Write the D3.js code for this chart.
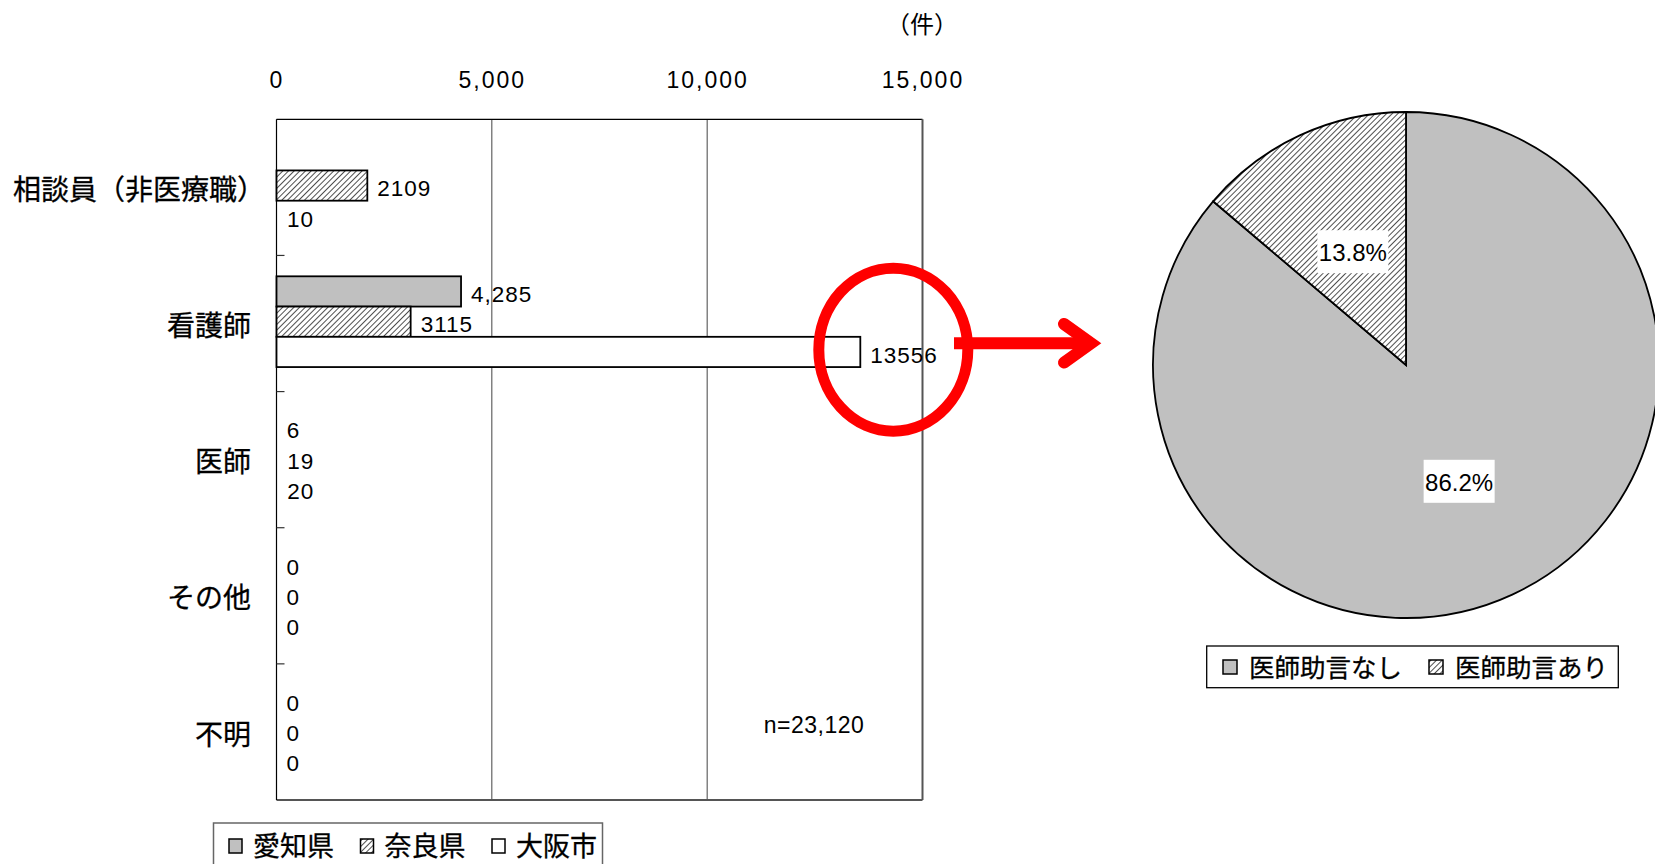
<!DOCTYPE html>
<html>
<head>
  <meta charset="utf-8">
  <title></title>
  <script src="https://d3js.org/d3.v7.min.js"></script>
  <style>
    body { margin: 0; background: #fff; }
    svg { display: block; }
  </style>
</head>
<body>
<script>
// bar chart data (件)
var categories = ["相談員（非医療職）", "看護師", "医師", "その他", "不明"];
var seriesNames = ["愛知県", "奈良県", "大阪市"];
var aichi = [null, 4285, 6, 0, 0];
var nara  = [2109, 3115, 19, 0, 0];
var osaka = [10, 13556, 20, 0, 0];
var xTicks = [0, 5000, 10000, 15000];
var unitLabel = "（件）";
var sampleNote = "n=23,120";

// pie data (%)
var pieLabels = ["医師助言なし", "医師助言あり"];
var pieValues = [86.2, 13.8];

var W = 1655, H = 864;
var jp = "'Noto Sans CJK JP', 'Noto Sans', sans-serif";
var num = "'Liberation Sans', Arial, sans-serif";

var svg = d3.select("body").append("svg")
    .attr("width", W)
    .attr("height", H);

var defs = svg.append("defs");
defs.append("pattern")
    .attr("id", "hatch")
    .attr("patternUnits", "userSpaceOnUse")
    .attr("width", 4).attr("height", 4)
    .attr("patternTransform", "rotate(45)")
  .call(function(p) {
    p.append("rect").attr("width", 4).attr("height", 4).attr("fill", "#fff");
    p.append("line").attr("x1", 0).attr("y1", 0).attr("x2", 0).attr("y2", 4)
      .attr("stroke", "#222").attr("stroke-width", 1.6);
  });

var fills = {"愛知県": "#c0c0c0", "奈良県": "url(#hatch)", "大阪市": "#ffffff"};
var seriesData = {"愛知県": aichi, "奈良県": nara, "大阪市": osaka};
var fmt = {"愛知県": d3.format(","), "奈良県": d3.format("d"), "大阪市": d3.format("d")};

// ---- bar chart ----
var pLeft = 276.5, pTop = 119.3, pRight = 922.5, pBottom = 800;

var x = d3.scaleLinear().domain([0, 15000]).range([pLeft, pRight]);
var y0 = d3.scaleBand().domain(categories).range([pTop, pBottom]);
var y1 = d3.scaleBand().domain(seriesNames).range([0, y0.bandwidth()])
    .paddingInner(0).paddingOuter(0.75).align(0.46);

// grid lines
svg.append("g").selectAll("line")
    .data(xTicks.slice(1, -1))
    .enter().append("line")
    .attr("x1", function(d) { return x(d); })
    .attr("x2", function(d) { return x(d); })
    .attr("y1", pTop).attr("y2", pBottom)
    .attr("stroke", "#444").attr("stroke-width", 1);

// frame
svg.append("line").attr("x1", pLeft).attr("x2", pRight).attr("y1", pTop).attr("y2", pTop)
    .attr("stroke", "#000").attr("stroke-width", 1.2);
svg.append("line").attr("x1", pRight).attr("x2", pRight).attr("y1", pTop).attr("y2", pBottom)
    .attr("stroke", "#555").attr("stroke-width", 2);
svg.append("line").attr("x1", pLeft).attr("x2", pRight).attr("y1", pBottom).attr("y2", pBottom)
    .attr("stroke", "#555").attr("stroke-width", 2.2);
svg.append("line").attr("x1", pLeft).attr("x2", pLeft).attr("y1", pTop).attr("y2", pBottom)
    .attr("stroke", "#000").attr("stroke-width", 1.2);

// category tick marks
svg.append("g").selectAll("line")
    .data(categories.slice(1))
    .enter().append("line")
    .attr("x1", pLeft).attr("x2", pLeft + 8)
    .attr("y1", function(d) { return y0(d); })
    .attr("y2", function(d) { return y0(d); })
    .attr("stroke", "#333").attr("stroke-width", 1.2);

// x axis labels on top
var xAxis = svg.append("g")
    .attr("transform", "translate(0,88)")
    .call(d3.axisTop(x).tickValues(xTicks).tickFormat(d3.format(",")).tickSize(0).tickPadding(0));
xAxis.select(".domain").remove();
xAxis.selectAll("text")
    .attr("font-family", num).attr("font-size", 23)
    .attr("letter-spacing", 2).attr("fill", "#000");

// category labels (a trailing full-width bracket has empty right half)
svg.append("g").selectAll("text")
    .data(categories)
    .enter().append("text")
    .attr("x", 251)
    .attr("dx", function(d) { return d.slice(-1) === "）" ? "0.5em" : 0; })
    .attr("y", function(d) { return y0(d) + y0.bandwidth() / 2; })
    .attr("dy", "0.45em")
    .attr("text-anchor", "end")
    .attr("font-family", jp).attr("font-size", 28)
    .attr("stroke", "#000").attr("stroke-width", 0.3)
    .text(function(d) { return d; });

// bars and value labels
var groups = svg.append("g").selectAll("g")
    .data(categories)
    .enter().append("g")
    .attr("transform", function(d) { return "translate(0," + y0(d) + ")"; });

groups.each(function(c, i) {
  var g = d3.select(this);
  var rows = seriesNames.map(function(s) { return {s: s, v: seriesData[s][i]}; })
      .filter(function(r) { return r.v !== null; });

  g.selectAll("rect")
    .data(rows.filter(function(r) { return r.v > 100; }))
    .enter().append("rect")
    .attr("x", x(0))
    .attr("y", function(r) { return y1(r.s); })
    .attr("width", function(r) { return x(r.v) - x(0); })
    .attr("height", y1.bandwidth())
    .attr("fill", function(r) { return fills[r.s]; })
    .attr("stroke", "#000").attr("stroke-width", 1.8);

  g.selectAll("text")
    .data(rows)
    .enter().append("text")
    .attr("x", function(r) { return x(r.v) + 10; })
    .attr("y", function(r) { return y1(r.s) + y1.bandwidth() / 2; })
    .attr("dy", "0.48em")
    .attr("font-family", num).attr("font-size", 22.5)
    .attr("letter-spacing", 1)
    .text(function(r) { return fmt[r.s](r.v); });
});

svg.append("text")
    .attr("x", 922).attr("y", 23).attr("dy", "0.4em")
    .attr("text-anchor", "middle")
    .attr("font-family", jp).attr("font-size", 24)
    .text(unitLabel);

svg.append("text")
    .attr("x", 814).attr("y", 724).attr("dy", "0.4em")
    .attr("text-anchor", "middle")
    .attr("font-family", num).attr("font-size", 23)
    .attr("letter-spacing", 0.5)
    .text(sampleNote);

// bar legend
var lg = svg.append("g");
lg.append("rect")
    .attr("x", 213.5).attr("y", 823).attr("width", 389).attr("height", 60)
    .attr("fill", "#fff").attr("stroke", "#666").attr("stroke-width", 1.5);
var lgItems = lg.selectAll("g")
    .data(seriesNames)
    .enter().append("g")
    .attr("transform", function(d, i) { return "translate(" + (229 + i * 131.5) + ",846)"; });
lgItems.append("rect")
    .attr("x", 0).attr("y", -7).attr("width", 13).attr("height", 14)
    .attr("fill", function(d) { return fills[d]; })
    .attr("stroke", "#000").attr("stroke-width", 1.5);
lgItems.append("text")
    .attr("x", 24).attr("y", 0).attr("dy", "0.38em")
    .attr("font-family", jp).attr("font-size", 27)
    .attr("stroke", "#000").attr("stroke-width", 0.3)
    .text(function(d) { return d; });

// ---- red highlight + arrow ----
svg.append("ellipse")
    .attr("cx", 893.3).attr("cy", 349.7).attr("rx", 74.5).attr("ry", 81.5)
    .attr("fill", "none").attr("stroke", "#ff0000").attr("stroke-width", 11);
svg.append("line")
    .attr("x1", 954).attr("x2", 1092).attr("y1", 343.3).attr("y2", 343.3)
    .attr("stroke", "#ff0000").attr("stroke-width", 12);
svg.append("path")
    .attr("d", "M1064,324 L1091,343.3 L1064,362.6")
    .attr("fill", "none").attr("stroke", "#ff0000").attr("stroke-width", 12)
    .attr("stroke-linecap", "round").attr("stroke-linejoin", "miter");

// ---- pie ----
var cx = 1406, cy = 365, r = 253;
var pieFills = ["#c0c0c0", "url(#hatch)"];
var pie = d3.pie().sort(null).value(function(d) { return d; });
var arc = d3.arc().innerRadius(0).outerRadius(r);
var arcs = pie(pieValues);

var pg = svg.append("g").attr("transform", "translate(" + cx + "," + cy + ")");
pg.selectAll("path")
    .data(arcs)
    .enter().append("path")
    .attr("d", arc)
    .attr("fill", function(d, i) { return pieFills[i]; })
    .attr("stroke", "#000").attr("stroke-width", 1.8);

var pl = pg.selectAll("g.lbl")
    .data(arcs)
    .enter().append("g")
    .attr("class", "lbl")
    .attr("transform", function(d) { return "translate(" + arc.centroid(d) + ")"; });
pl.append("rect")
    .attr("x", -35.5).attr("y", -20).attr("width", 71).attr("height", 43)
    .attr("fill", "#fff");
pl.append("text")
    .attr("text-anchor", "middle").attr("dy", "0.45em")
    .attr("font-family", num).attr("font-size", 24)
    .text(function(d) { return d3.format(".1f")(d.data) + "%"; });

// pie legend
var plg = svg.append("g");
plg.append("rect")
    .attr("x", 1206.7).attr("y", 646).attr("width", 411.6).attr("height", 41.7)
    .attr("fill", "#fff").attr("stroke", "#000").attr("stroke-width", 1.3);
var plItems = plg.selectAll("g")
    .data(pieLabels)
    .enter().append("g")
    .attr("transform", function(d, i) { return "translate(" + (1223 + i * 206) + ",667)"; });
plItems.append("rect")
    .attr("x", 0).attr("y", -7).attr("width", 14).attr("height", 14)
    .attr("fill", function(d, i) { return pieFills[i]; })
    .attr("stroke", "#000").attr("stroke-width", 1.5);
plItems.append("text")
    .attr("x", 26).attr("y", 0).attr("dy", "0.38em")
    .attr("font-family", jp).attr("font-size", 25.5)
    .attr("stroke", "#000").attr("stroke-width", 0.3)
    .text(function(d) { return d; });
</script>
</body>
</html>
